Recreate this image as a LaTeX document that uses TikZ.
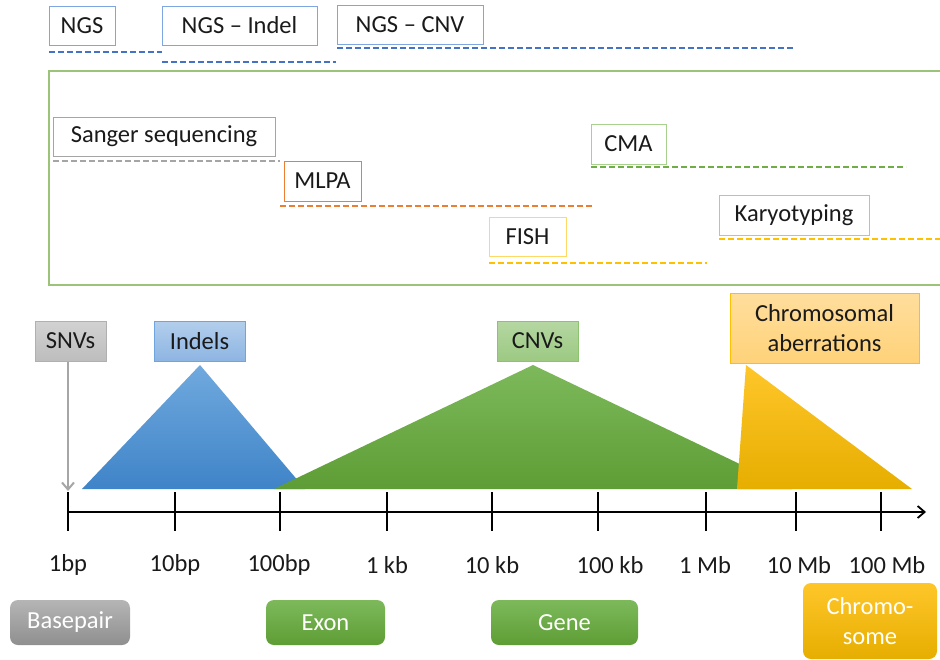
\documentclass[tikz,border=0pt]{standalone}
\usepackage{fontspec}
\setmainfont{Carlito}
\definecolor{ink}{HTML}{1A1A1A}
\definecolor{ngsline}{HTML}{4472C4}
\definecolor{ngsedge}{HTML}{7EA6E0}
\definecolor{frameg}{HTML}{9BC47A}
\definecolor{sangergray}{HTML}{A5A5A5}
\definecolor{mlpaorange}{HTML}{ED7D31}
\definecolor{cmaedge}{HTML}{A9D18E}
\definecolor{cmaline}{HTML}{70AD47}
\definecolor{fishedge}{HTML}{FFD966}
\definecolor{amber}{HTML}{FFC000}
\definecolor{snvtop}{HTML}{D2D2D2}
\definecolor{snvbot}{HTML}{BDBDBD}
\definecolor{snvedge}{HTML}{B0B0B0}
\definecolor{snvarrow}{HTML}{A6A6A6}
\definecolor{indeltop}{HTML}{B3CEEC}
\definecolor{indelbot}{HTML}{8DB5E2}
\definecolor{indeledge}{HTML}{6FA5DC}
\definecolor{cnvtop}{HTML}{B5D7A2}
\definecolor{cnvbot}{HTML}{9CC982}
\definecolor{cnvedge}{HTML}{8CC36E}
\definecolor{abtop}{HTML}{FFDE9C}
\definecolor{abbot}{HTML}{FFD27A}
\definecolor{bluetop}{HTML}{70A9DE}
\definecolor{bluebot}{HTML}{3F84C8}
\definecolor{greentop}{HTML}{7DB95B}
\definecolor{greenbot}{HTML}{5E9D35}
\definecolor{goldtop}{HTML}{FFC62A}
\definecolor{goldbot}{HTML}{E6AE00}
\definecolor{bptop}{HTML}{B5B5B5}
\definecolor{bpbot}{HTML}{8F8F8F}
\usetikzlibrary{arrows.meta,positioning}

\begin{document}
\begin{tikzpicture}[
  x=1pt, y=-1pt,
  meth/.style={rectangle, draw, fill=white, line width=1pt, minimum height=39pt, inner sep=0pt, font=\fontsize{24.5}{30}\selectfont, text=ink},
  rangeline/.style={dash pattern=on 6pt off 3pt, line width=2pt},
  varbox/.style={meth, minimum height=40pt, align=center},
  scalebox/.style={rectangle, rounded corners=8pt, minimum height=45pt, inner sep=0pt, text=white, font=\fontsize{24.5}{30}\selectfont, align=center},
  axislbl/.style={inner sep=0pt, font=\fontsize{24.5}{30}\selectfont, text=ink},
]
\useasboundingbox (0,0) rectangle (940,659);

\node[meth, draw=ngsedge, minimum width=66pt] (ngs) at (82, 25.5) {NGS};
\node[meth, draw=ngsedge, minimum width=155pt] (ngsindel) at (239.5, 25.5) {NGS -- Indel};
\node[meth, draw=ngsedge, minimum width=146pt] (ngscnv) at (410, 24.5) {NGS -- CNV};
\draw[rangeline, ngsline] (49,52) -- (162,52);
\draw[rangeline, ngsline] (162,62) -- (336,62);
\draw[rangeline, ngsline] (337,48) -- (795,48);

\draw[frameg, line width=1.2pt] (940,71) -| (49,285) -- (940,285);

\node[meth, draw=sangergray, minimum width=222pt] (sanger) at (164, 136.5) {Sanger sequencing};
\node[meth, draw=mlpaorange, minimum width=77pt, minimum height=40pt] (mlpa) at (322.5, 181) {MLPA};
\node[meth, draw=cmaedge, minimum width=75pt, minimum height=40pt] (cma) at (628.5, 144) {CMA};
\node[meth, draw=fishedge, minimum width=77pt] (fish) at (527.5, 236.5) {FISH};
\node[meth, draw=amber, minimum width=150pt, minimum height=40pt] (karyo) at (794, 215) {Karyotyping};
\draw[rangeline, sangergray] (53,161) -- (280,161);
\draw[rangeline, mlpaorange] (280,206) -- (593,206);
\draw[rangeline, cmaline] (591,167) -- (906,167);
\draw[rangeline, amber] (489,263) -- (707,263);
\draw[rangeline, amber] (719,239) -- (940,239);

\shade[top color=bluetop, bottom color=bluebot] (82,489) -- (200,365) -- (305,489) -- cycle;
\shade[top color=greentop, bottom color=greenbot] (274,489) -- (533,365) -- (792,489) -- cycle;
\shade[top color=goldtop, bottom color=goldbot] (737,489) -- (746,365) -- (912,489) -- cycle;

\node[varbox, draw=snvedge, top color=snvtop, bottom color=snvbot, minimum width=71pt] (snv) at (70.5, 341) {SNVs};
\node[varbox, draw=indeledge, top color=indeltop, bottom color=indelbot, minimum width=91pt] (indel) at (199.5, 341) {Indels};
\node[varbox, draw=cnvedge, top color=cnvtop, bottom color=cnvbot, minimum width=81pt] (cnv) at (537.5, 341) {CNVs};
\node[varbox, draw=amber, top color=abtop, bottom color=abbot, minimum width=189pt, minimum height=70pt] (chrab) at (824.5, 328) {Chromosomal\\aberrations};

\coordinate (snvend) at (68,491);
\draw[snvarrow, line width=2pt, -{Straight Barb[length=7pt, width=12pt]}] (snv.south -| snvend) -- (snvend);

\coordinate (ax0) at (68,512);
\coordinate (ax1) at (926,512);
\draw[line width=1.8pt, -{Straight Barb[length=7pt, width=12pt]}] (ax0) -- (ax1);
\foreach \x in {68,175,280,387,492,598,706,796,881}
  \draw[line width=1.8pt] (\x,492) -- (\x,531);

\node[axislbl] (l1) at (68,565) {1bp};
\node[axislbl] (l2) at (175,565) {10bp};
\node[axislbl] (l3) at (279,565) {100bp};
\node[axislbl] (l4) at (387,565) {1 kb};
\node[axislbl] (l5) at (492,565) {10 kb};
\node[axislbl] (l6) at (610,565) {100 kb};
\node[axislbl] (l7) at (705,565) {1 Mb};
\node[axislbl] (l8) at (799,565) {10 Mb};
\node[axislbl] (l9) at (887,565) {100 Mb};

\node[scalebox, top color=bptop, bottom color=bpbot, minimum width=120pt] (basepair) at (70, 622.5) {Basepair};
\node[scalebox, top color=greentop, bottom color=greenbot, minimum width=119pt] (exon) at (325.5, 622.5) {Exon};
\node[scalebox, top color=greentop, bottom color=greenbot, minimum width=147pt] (gene) at (564.5, 622.5) {Gene};
\node[scalebox, top color=goldtop, bottom color=goldbot, minimum width=134pt, minimum height=76pt] (chromo) at (870, 621) {Chromo-\\some};
\end{tikzpicture}
\end{document}
